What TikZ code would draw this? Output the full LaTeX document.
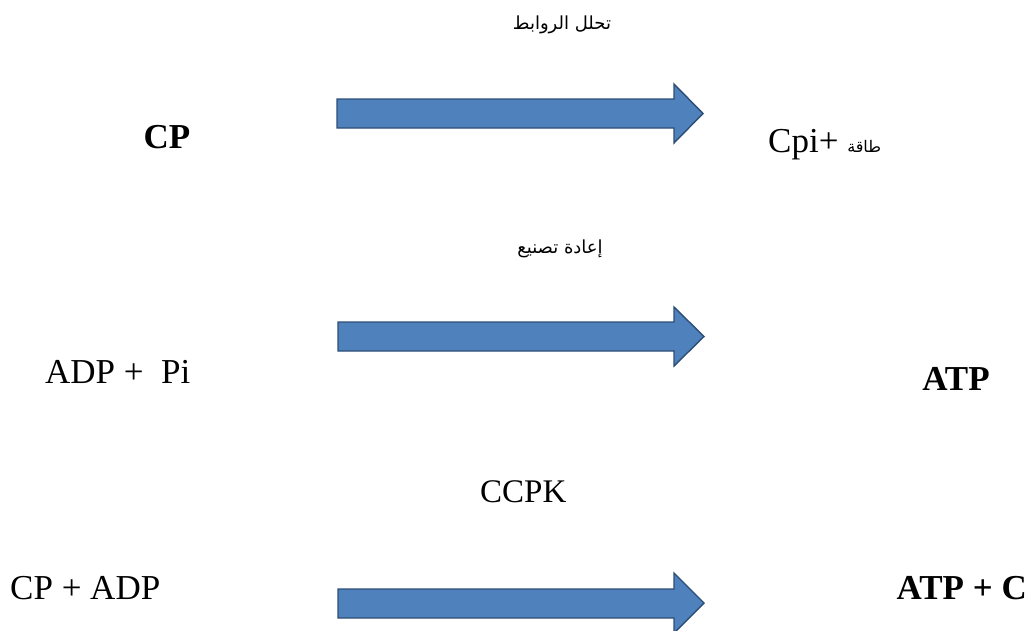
\documentclass[tikz,border=0pt]{standalone}
\usepackage{fontspec}
\setmainfont{Liberation Serif}
\newfontfamily\arabicfont[Script=Arabic]{DejaVu Sans}
\TeXXeTstate=1
\definecolor{arrowfill}{HTML}{4F81BD}
\definecolor{arrowline}{HTML}{2C4D75}
\tikzset{
  bigarrow/.style={fill=arrowfill, draw=arrowline, line width=1.4pt, line join=miter},
  chem/.style={inner sep=0pt, font=\fontsize{35}{40}\selectfont},
  chembold/.style={inner sep=0pt, font=\fontsize{35}{40}\selectfont\bfseries},
  arlabel/.style={inner sep=0pt, font=\arabicfont\fontsize{18}{24}\selectfont},
}
\begin{document}
\begin{tikzpicture}[x=1pt,y=-1pt]
\useasboundingbox (0,0) rectangle (1035,630);
\begin{scope}
\clip (0,0) rectangle (1035,630);
% arrows
\draw[bigarrow] (337,99) -- (674,99) -- (674,84) -- (703,113.5) -- (674,143) -- (674,128) -- (337,128) -- cycle;
\draw[bigarrow] (338,322) -- (674,322) -- (674,307) -- (704,336.5) -- (674,366) -- (674,351) -- (338,351) -- cycle;
\draw[bigarrow] (338,589) -- (674,589) -- (674,573) -- (704,603) -- (674,633) -- (674,618) -- (338,618) -- cycle;
\end{scope}
% row 1
\node[arlabel] (lab1) at (562,25) {\beginR تحلل الروابط\endR};
\node[chembold, anchor=base] (cp) at (167,148) {CP};
\node[chem, anchor=base west] (cpi) at (768,152) {Cpi+ {\arabicfont\fontsize{16}{20}\selectfont\beginR طاقة\endR}};
% row 2
\node[arlabel] (lab2) at (560,249) {\beginR إعادة تصنيع\endR};
\node[chem, anchor=base west] (adp) at (45,383) {ADP + \ Pi};
\node[chembold, anchor=base] (atp) at (956,390) {ATP};
% row 3
\node[inner sep=0pt, anchor=base west, font=\fontsize{33}{36}\selectfont] (ccpk) at (480,502) {CCPK};
\node[chem, anchor=base west] (cpadp) at (10,599) {CP + ADP};
\node[chembold, anchor=base east] (atpc) at (1027,599) {ATP + C};
\end{tikzpicture}
\end{document}
